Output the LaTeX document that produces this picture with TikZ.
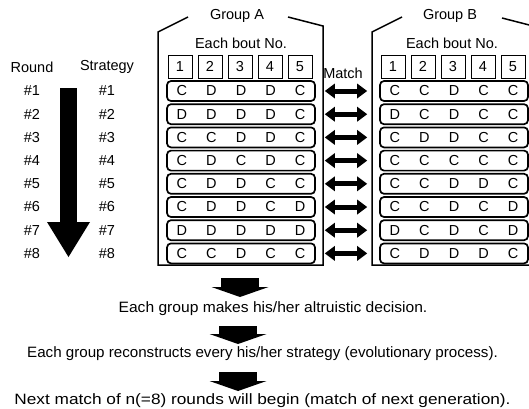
\documentclass[tikz,border=0pt]{standalone}
\usepackage{fontspec}
\setmainfont{Liberation Sans}
\usetikzlibrary{arrows.meta}

% five bouts of one strategy, one letter per column
\newcommand{\bouts}[5]{\makebox[29.6pt]{#1}\makebox[29.6pt]{#2}\makebox[29.6pt]{#3}\makebox[29.6pt]{#4}\makebox[29.6pt]{#5}}

\tikzset{
  every node/.style={font=\fontsize{14.5}{16}\selectfont},
  steptext/.style={font=\fontsize{15}{17}\selectfont},
  rowbox/.style={draw, line width=1.7pt, rounded corners=4pt, inner sep=0pt, minimum height=20pt},
  numbox/.style={draw, line width=0.6pt, minimum width=24pt, minimum height=23pt, inner sep=0pt},
  groupframe/.style={line width=1.5pt},
  matcharrow/.style={line width=5pt,
    {Triangle[length=10pt,width=15pt,line width=0pt]}-{Triangle[length=10pt,width=15pt,line width=0pt]},
    shorten <=9pt, shorten >=12pt},
  roundarrow/.style={line width=17pt, -{Triangle[length=35pt,width=43pt,line width=0pt]}},
  flowarrow/.style={line width=38pt, -{Triangle[length=10pt,width=57pt,line width=0pt]}}
}

\begin{document}
\begin{tikzpicture}[x=1pt, y=-1pt]
        \useasboundingbox (0,0) rectangle (529,408);
        \clip (0,0) rectangle (529,408);

        % Left column: rounds and strategies
        \node (round) at (32,67) {Round};
        \node (strat) at (107,67) {Strategy};
        \foreach \k in {1,...,8} {
            \node (r\k) at (32,{91+23.2*(\k-1)}) {\#\k};
            \node (s\k) at (107,{91+23.2*(\k-1)}) {\#\k};
        }
        \coordinate (rtop) at (68.5,88);
        \coordinate (rtip) at (68.5,257);
        \draw[roundarrow] (rtop) -- (rtip);

        % Group A frame
        \draw[groupframe] (188,17) -- (158,32) -- (158,265) -- (323,265) -- (323,26) -- (288,17);
        \node (grpA) at (237,16) {Group A};
        \node (boutA) at (241,43) {Each bout No.};
        \foreach \k in {1,...,5} {
            \node[numbox] (hA\k) at ({180+30*(\k-1)},66.5) {\k};
        }

        % Group B frame
        \draw[groupframe] (402,17) -- (372,32) -- (372,265) -- (537,265) -- (537,27) -- (502,18);
        \node (grpB) at (450,16) {Group B};
        \node (boutB) at (452,43) {Each bout No.};
        \foreach \k in {1,...,5} {
            \node[numbox] (hB\k) at ({393+30*(\k-1)},66.5) {\k};
        }

        % Strategies of group A
        \node[rowbox] (a1) at (241,91)    {\bouts CDDDC};
        \node[rowbox] (a2) at (241,114.2) {\bouts DDDDC};
        \node[rowbox] (a3) at (241,137.4) {\bouts CCDDC};
        \node[rowbox] (a4) at (241,160.6) {\bouts CDCDC};
        \node[rowbox] (a5) at (241,183.8) {\bouts CDDCC};
        \node[rowbox] (a6) at (241,207)   {\bouts CDDCD};
        \node[rowbox] (a7) at (241,230.2) {\bouts DDDDD};
        \node[rowbox] (a8) at (241,253.4) {\bouts CCDCC};

        % Strategies of group B
        \node[rowbox] (b1) at (454,91)    {\bouts CCDCC};
        \node[rowbox] (b2) at (454,114.2) {\bouts DCDCC};
        \node[rowbox] (b3) at (454,137.4) {\bouts CDDCC};
        \node[rowbox] (b4) at (454,160.6) {\bouts CCCCC};
        \node[rowbox] (b5) at (454,183.8) {\bouts CCDDC};
        \node[rowbox] (b6) at (454,207)   {\bouts CCDCD};
        \node[rowbox] (b7) at (454,230.2) {\bouts DCDCD};
        \node[rowbox] (b8) at (454,253.4) {\bouts CDDDC};

        % Matches
        \node (match) at (343,73) {Match};
        \draw[matcharrow] (a1) -- (b1);
        \draw[matcharrow] (a2) -- (b2);
        \draw[matcharrow] (a3) -- (b3);
        \draw[matcharrow] (a4) -- (b4);
        \draw[matcharrow] (a5) -- (b5);
        \draw[matcharrow] (a6) -- (b6);
        \draw[matcharrow] (a7) -- (b7);
        \draw[matcharrow] (a8) -- (b8);

        % After the match
        \node[steptext] (dec) at (273,309) {\scalebox{1.04}[1]{Each group makes his/her altruistic decision.}};
        \node[steptext] (rec) at (262.5,354) {\scalebox{1.01}[1]{Each group reconstructs every his/her strategy (evolutionary process).}};
        \node[steptext] (nxt) at (262.5,401) {\scalebox{1.15}[1]{Next match of n(=8) rounds will begin (match of next generation).}};
        \coordinate (f1top) at (240,278);
        \coordinate (f1tip) at (240,297);
        \coordinate (f2top) at (238,326);
        \coordinate (f2tip) at (238,344);
        \coordinate (f3top) at (238,372);
        \coordinate (f3tip) at (238,391);
        \draw[flowarrow] (f1top) -- (f1tip);
        \draw[flowarrow] (f2top) -- (f2tip);
        \draw[flowarrow] (f3top) -- (f3tip);
    \end{tikzpicture}
\end{document}
